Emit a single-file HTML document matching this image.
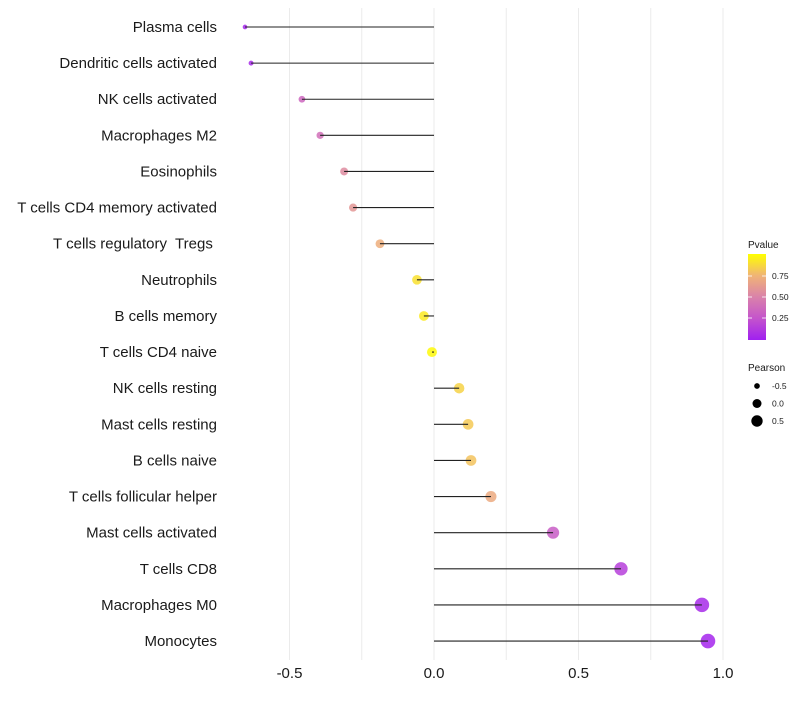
<!DOCTYPE html>
<html><head><meta charset="utf-8"><style>
body{margin:0;background:#fff;font-family:"Liberation Sans",sans-serif;}
text{white-space:pre;}
</style></head><body>
<svg id="chart" width="800" height="700" xmlns="http://www.w3.org/2000/svg"></svg>
<script>
const categories=["Plasma cells","Dendritic cells activated","NK cells activated","Macrophages M2","Eosinophils","T cells CD4 memory activated","T cells regulatory  Tregs ","Neutrophils","B cells memory","T cells CD4 naive","NK cells resting","Mast cells resting","B cells naive","T cells follicular helper","Mast cells activated","T cells CD8","Macrophages M0","Monocytes"];
const pearson=[-0.654,-0.633,-0.457,-0.394,-0.311,-0.280,-0.187,-0.059,-0.035,-0.007,0.087,0.118,0.128,0.197,0.412,0.647,0.927,0.948];
const pvalue=[0.03,0.05,0.35,0.4,0.55,0.6,0.72,0.9,0.93,0.98,0.85,0.82,0.8,0.7,0.3,0.15,0.05,0.03];
const xTicks=[-0.5,0.0,0.5,1.0];
const xTickLabels=["-0.5","0.0","0.5","1.0"];
const gridVals=[-0.5,-0.25,0,0.25,0.5,0.75,1.0];
const pTicks=[0.25,0.5,0.75];
const legendPearson=[-0.5,0.0,0.5];

const svg=document.getElementById('chart');
const NS="http://www.w3.org/2000/svg";
const x=v=>434+v*289;
const y=i=>27+i*36.12;
const r=p=>Math.sqrt(Math.max(25+30*p,3));
const stops=[[0,[160,32,240]],[0.25,[196,84,204]],[0.5,[218,130,170]],[0.75,[240,180,118]],[1,[255,255,0]]];
function col(p){for(let i=0;i<stops.length-1;i++){const a=stops[i],b=stops[i+1];if(p<=b[0]){const t=(p-a[0])/(b[0]-a[0]);return 'rgb('+a[1].map((c,k)=>Math.round(c+(b[1][k]-c)*t)).join(',')+')';}}return 'rgb(255,255,0)';}
function el(tag,attrs,txt){const e=document.createElementNS(NS,tag);for(const k in attrs)e.setAttribute(k,attrs[k]);if(txt!==undefined)e.textContent=txt;svg.appendChild(e);return e;}

gridVals.forEach(v=>{const g=el('line',{x1:x(v),x2:x(v),y1:8,y2:660,stroke:'#ebebeb','stroke-width':1});

});
categories.forEach((c,i)=>{
 const t=el('text',{x:217,y:y(i)+5,'text-anchor':'end','font-size':15,fill:'#1a1a1a'},c);
 
 
 const d=el('circle',{cx:x(pearson[i]),cy:y(i),r:r(pearson[i]),fill:col(pvalue[i]),'fill-opacity':0.85});
 
 
 const l=el('line',{x1:x(0),x2:x(pearson[i]),y1:y(i),y2:y(i),stroke:'#222','stroke-width':1.1});
 
 
});
xTicks.forEach((v,i)=>{const t=el('text',{x:x(v),y:678,'text-anchor':'middle','font-size':15,fill:'#1a1a1a'},xTickLabels[i]);

});

const defs=el('defs',{});
const lg=document.createElementNS(NS,'linearGradient');lg.setAttribute('id','pg');lg.setAttribute('x1','0');lg.setAttribute('y1','1');lg.setAttribute('x2','0');lg.setAttribute('y2','0');
stops.forEach(s=>{const st=document.createElementNS(NS,'stop');st.setAttribute('offset',s[0]);st.setAttribute('stop-color',col(s[0]));lg.appendChild(st);});
defs.appendChild(lg);
const tt=el('text',{x:748,y:248,'font-size':10,fill:'#1a1a1a'},'Pvalue');


const cb=el('rect',{x:748,y:254,width:18,height:86,fill:'url(#pg)'});


const py=p=>339-p*84;
pTicks.forEach(p=>{
 el('line',{x1:748,x2:752,y1:py(p),y2:py(p),stroke:'#fff','stroke-width':0.8});
 el('line',{x1:762,x2:766,y1:py(p),y2:py(p),stroke:'#fff','stroke-width':0.8});
 const t=el('text',{x:772,y:py(p)+3,'font-size':8.5,fill:'#1a1a1a'},p.toFixed(2));
 
 
});
const st2=el('text',{x:748,y:371,'font-size':10,fill:'#1a1a1a'},'Pearson');


legendPearson.forEach((p,i)=>{
 const c=el('circle',{cx:757,cy:386+i*17.5,r:r(p)*0.9,fill:'#000'});
 
 
 const t=el('text',{x:772,y:389+i*17.5,'font-size':8.5,fill:'#1a1a1a'},p.toFixed(1));
 
 
});
</script>
</body></html>
